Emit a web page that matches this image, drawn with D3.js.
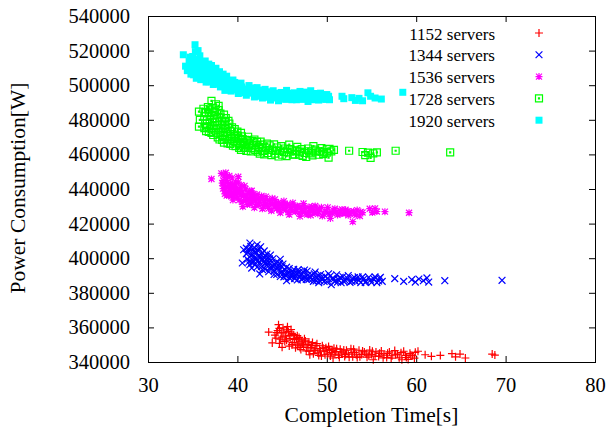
<!DOCTYPE html>
<html>
<head>
<meta charset="utf-8">
<script src="https://cdn.jsdelivr.net/npm/d3@7"></script>
<style>
  body { margin: 0; background: #fff; }
  text { font-family: "Liberation Serif", "Times New Roman", serif; fill: #000; }
</style>
</head>
<body>
<script>
// series values: [completion time (s), power (W)]
const s1152 = [[43.5,357300],[44.6,361600],[43.9,351000],[45.0,348500],[44.2,355500],[44.5,358200],[44.8,353200],[44.9,356800],[45.1,359800],[45.3,351800],[45.4,355000],[45.6,360400],[45.7,357600],[45.8,349200],[45.9,353500],[46.0,358800],[46.2,351200],[46.3,355800],[46.5,348200],[46.6,353600],[46.8,350400],[46.9,354200],[47.1,347200],[47.2,351600],[47.4,349300],[47.6,352200],[47.7,346400],[47.9,350200],[48.1,344200],[48.2,348300],[48.4,351200],[48.6,346600],[48.8,349500],[49.0,345300],[49.2,347800],[49.4,343400],[49.5,349400],[49.7,346200],[49.9,348300],[50.1,344500],[50.3,347100],[50.5,345500],[50.7,342300],[50.8,348000],[51.0,346000],[51.3,344000],[51.5,347400],[51.7,345200],[52.0,343200],[52.2,346800],[52.4,344600],[52.7,347600],[52.9,343000],[53.1,345600],[53.4,342600],[53.6,346800],[53.9,344300],[54.2,345800],[54.5,342800],[54.8,346900],[55.0,344400],[55.2,341300],[55.5,345800],[55.8,343200],[56.1,346400],[56.4,344000],[56.7,342600],[57.0,345800],[57.3,343600],[57.6,346600],[57.9,344600],[58.1,342400],[58.4,341300],[58.6,346200],[58.8,343800],[59.1,341500],[59.3,345000],[59.6,343600],[59.9,345600],[60.2,346200],[61.0,344200],[61.7,343300],[62.7,343800],[64.0,344800],[64.4,343000],[64.9,344600],[65.5,342300],[68.5,344600],[68.8,344000],
  [44.3,353800],[44.4,357000],[44.7,359400],[44.7,350800],[45.0,354400],[45.2,357200],[45.5,352600],[45.5,358600],[45.8,355400],[46.1,350000],[46.1,356600],[46.4,353000],[46.7,349800],[46.7,355200],[47.0,352800],[47.0,348400],[47.3,350400],[47.5,353400],[47.8,348400],[48.0,351600],[48.0,346200],[48.3,349600],[48.5,344800],[48.7,347600],[48.9,350600],[49.1,343800],[49.3,346400],[49.6,348000],[49.8,344200],[50.0,346800],[50.2,349000],[50.4,343400],[50.6,346800],[50.9,344600],[51.1,347600],[51.4,342600],[51.6,345800],[51.9,347000],[52.1,344400],[52.5,342800],[52.8,345400],[53.0,347400],[53.3,344200],[53.7,343000],[54.0,346400],[54.4,344600],[54.7,343600],[55.1,346200],[55.4,343400],[55.9,345000],[56.3,342400],[56.8,345000],[57.2,342200],[57.7,344200],[58.3,345400],[58.9,342600],[59.4,344000],[59.8,342200]];

const s1344 = [[40.7,404900],[40.55,397200],[41.4,408800],[42.2,407800],[41.6,394300],[42.5,390900],[41.0,402500],[41.1,399500],[41.3,405200],[41.5,401300],[41.6,397600],[41.8,404000],[41.9,400200],[42.0,396400],[42.1,402800],[42.3,398800],[42.4,405600],[42.6,400800],[42.7,395200],[42.8,403000],[43.0,398200],[43.1,393600],[43.2,401000],[43.4,396600],[43.5,392200],[43.6,399600],[43.8,394800],[43.9,397800],[44.1,392800],[44.2,396000],[44.4,390600],[44.5,394200],[44.7,397000],[44.9,391800],[45.0,395000],[45.2,389200],[45.3,393200],[45.5,387000],[45.6,390600],[45.8,394000],[46.0,389400],[46.2,392200],[46.4,388200],[46.6,391200],[46.8,393400],[47.0,389400],[47.2,387600],[47.4,391800],[47.6,389000],[47.8,392600],[48.0,387800],[48.3,390400],[48.5,386600],[48.7,392000],[48.9,388600],[49.1,385800],[49.3,390600],[49.5,387600],[49.8,389600],[50.0,386400],[50.2,391000],[50.5,384700],[50.6,388200],[50.9,386600],[51.1,390400],[51.3,387600],[51.6,385800],[51.8,389400],[52.1,387000],[52.4,390000],[52.6,386000],[52.9,388400],[53.2,386600],[53.5,389200],[53.8,385900],[54.1,387800],[54.4,386400],[54.7,389000],[55.0,386000],[55.3,387800],[55.6,385800],[55.9,388400],[56.2,386600],[57.6,388200],[58.6,386600],[59.5,387600],[59.9,386200],[60.3,388000],[60.8,387000],[61.2,388600],[61.4,386200],[63.2,387000],[69.6,387200],
  [41.0,405800],[41.2,403600],[41.3,398000],[41.4,396200],[41.5,406800],[41.7,402000],[41.8,398400],[41.9,406000],[42.0,403800],[42.1,399200],[42.2,394800],[42.3,404400],[42.4,401600],[42.5,397400],[42.6,406600],[42.7,399200],[42.8,393400],[42.9,400600],[43.0,404200],[43.1,396600],[43.3,399400],[43.3,402400],[43.5,397800],[43.6,394400],[43.7,401800],[43.9,395600],[44.0,399800],[44.1,390600],[44.3,397400],[44.4,393600],[44.6,395600],[44.8,399400],[44.8,389400],[45.0,392400],[45.1,396600],[45.3,390400],[45.5,394800],[45.7,392000],[45.9,388200],[46.1,390800],[46.3,393600],[46.5,389800],[46.7,387400],[46.9,391800],[47.1,390600],[47.3,388600],[47.5,393200],[47.7,387800],[47.9,390200],[48.1,389200],[48.4,388000],[48.6,391000],[48.8,386800],[49.0,390000],[49.2,387000],[49.4,389000],[49.7,386600],[50.1,388400],[50.4,389800],[50.8,388000],[51.2,386200],[51.5,389000],[51.9,386600],[52.3,388400],[52.8,386600],[53.1,388800],[53.6,387200],[54.0,389200],[54.3,386000],[54.9,387400],[55.4,389200],[55.8,386800],[56.0,389000]];

const s1536 = [[37.1,445800],[38.2,449000],[38.5,447600],[38.7,449400],[39.1,447600],[39.4,446400],[40.1,447100],[38.3,443400],[38.4,440200],[38.6,437200],[38.8,444800],[38.9,441600],[39.0,438400],[39.2,443200],[39.3,435800],[39.4,440400],[39.5,433600],[39.6,437800],[39.8,444000],[39.9,440800],[40.0,435400],[40.2,438600],[40.4,442200],[40.5,432600],[40.6,429800],[40.7,436200],[40.9,440000],[41.0,433800],[41.2,437600],[41.4,431200],[41.6,439000],[41.7,435000],[41.9,429200],[42.0,433200],[42.2,436800],[42.4,430800],[42.6,434600],[42.8,428600],[43.0,432400],[43.2,435600],[43.4,429800],[43.6,433400],[43.8,427400],[44.0,431400],[44.2,434000],[44.4,428600],[44.6,432200],[44.8,426200],[45.0,430400],[45.2,433000],[45.4,427800],[45.6,431200],[45.8,425200],[46.0,429200],[46.2,432000],[46.5,427000],[46.7,430200],[47.0,424200],[47.2,428400],[47.4,431600],[47.7,426000],[47.9,429400],[48.2,424800],[48.4,427800],[48.7,430200],[49.0,425600],[49.2,428600],[49.5,424400],[49.8,427200],[50.1,429400],[50.4,423000],[50.6,426000],[50.9,428600],[51.2,425000],[51.5,427600],[51.8,425800],[52.1,428000],[52.4,424800],[52.7,427000],[52.9,421100],[53.1,425600],[53.4,427800],[53.7,424400],[54.0,426400],[54.8,428600],[55.1,426400],[55.4,428800],[55.6,427000],[56.5,426900],[59.2,426300],
  [38.4,445000],[38.5,442000],[38.6,439000],[38.8,436200],[38.9,447000],[39.0,443000],[39.1,440400],[39.2,436800],[39.4,438200],[39.5,442800],[39.6,435400],[39.7,441600],[39.8,438600],[40.0,437800],[40.1,444000],[40.2,433600],[40.3,440000],[40.4,436600],[40.6,438400],[40.7,433200],[40.8,441800],[41.0,436000],[41.1,431000],[41.3,434400],[41.4,438800],[41.5,436600],[41.6,432600],[41.8,437200],[41.9,434200],[42.1,431000],[42.3,434600],[42.5,432400],[42.7,436000],[42.9,430400],[43.1,434000],[43.3,431600],[43.5,428800],[43.7,431800],[43.9,434600],[44.1,429600],[44.3,432000],[44.5,430400],[44.7,428000],[44.9,431600],[45.1,428200],[45.3,431400],[45.5,429400],[45.7,426600],[45.9,430600],[46.1,427200],[46.4,430000],[46.6,428400],[46.9,426200],[47.1,430000],[47.3,426600],[47.6,428800],[47.8,425200],[48.1,427400],[48.3,429800],[48.6,426400],[48.9,428400],[49.1,426800],[49.4,429400],[49.7,425400],[50.0,427000],[50.3,425600],[50.7,427800],[51.0,426800],[51.4,425600],[51.7,428200],[52.0,426200],[52.3,427200],[52.6,425600],[53.0,427200],[53.3,425000],[53.8,426800]];

const s1728 = [[35.7,484700],[35.8,479900],[35.7,476000],[36.2,486400],[36.3,482000],[36.4,477800],[36.5,473400],[36.7,487400],[36.8,484000],[36.9,480200],[37.0,476200],[37.1,490900],[37.1,472400],[37.3,486600],[37.4,482600],[37.5,478600],[37.6,489000],[37.6,474400],[37.8,469800],[37.9,485600],[38.0,481200],[38.1,477200],[38.2,472800],[38.3,468400],[38.5,483000],[38.6,479000],[38.7,474600],[38.8,470400],[38.9,466400],[39.1,477800],[39.2,473400],[39.4,469200],[39.5,465000],[39.7,474600],[39.9,471000],[40.0,467000],[40.2,463800],[40.4,472400],[40.6,468800],[40.8,465400],[41.0,462000],[41.2,470200],[41.4,466800],[41.6,463600],[41.9,468600],[42.1,465400],[42.3,461600],[42.6,467400],[42.8,463800],[43.0,460000],[43.3,466200],[43.5,462600],[43.8,459600],[44.1,465800],[44.3,462000],[44.6,458800],[44.9,464800],[45.2,461400],[45.5,459000],[45.8,465600],[46.1,462400],[46.4,460000],[46.7,464400],[47.0,461600],[47.3,459200],[47.7,458500],[47.9,463400],[48.2,460600],[48.5,464800],[48.8,461800],[49.1,459800],[49.4,463600],[49.7,461200],[50.0,463000],[50.2,458100],[50.5,461800],[50.8,462600],[52.5,462100],[54.0,461400],[54.3,459600],[54.6,461000],[54.9,458000],[55.2,460600],[55.6,461200],[57.7,462100],[63.8,461200],
  [36.3,475200],[36.4,484400],[36.6,480000],[36.6,476000],[36.8,473000],[36.9,486000],[37.0,482400],[37.2,479000],[37.2,475000],[37.3,471200],[37.5,484400],[37.7,480800],[37.7,477000],[37.8,472200],[37.9,488000],[38.0,468600],[38.1,483600],[38.2,475200],[38.3,479400],[38.4,471200],[38.5,466800],[38.6,476200],[38.7,481000],[38.8,473000],[39.0,468800],[39.0,479400],[39.2,466000],[39.3,471800],[39.4,475600],[39.6,467800],[39.7,470400],[39.8,464800],[40.0,473200],[40.1,469400],[40.3,466000],[40.4,462600],[40.5,470400],[40.7,467000],[40.9,463800],[41.1,468200],[41.3,465000],[41.5,461800],[41.7,467800],[41.8,465400],[42.0,462600],[42.2,467200],[42.4,464200],[42.5,460400],[42.7,465600],[42.9,462000],[43.2,464000],[43.4,460800],[43.6,465200],[43.9,462800],[44.2,460400],[44.4,464000],[44.8,462200],[45.0,459800],[45.3,463400],[45.6,461200],[45.9,463000],[46.2,459800],[46.6,462200],[46.9,459800],[47.2,463000],[47.5,460800],[48.0,461800],[48.4,459400],[48.7,462800],[49.2,461800],[49.6,460200],[50.0,461000],[50.3,463200]];

const s1920 = [[33.95,517600],[34.2,511000],[34.4,508400],[34.6,513800],[34.8,506400],[35.0,516600],[35.1,510600],[35.26,523400],[35.3,519400],[35.4,504000],[35.5,514600],[35.7,508600],[35.8,517000],[35.9,503200],[36.0,512200],[36.2,506600],[36.4,514000],[36.5,501800],[36.7,509800],[36.9,504600],[37.1,511400],[37.3,500400],[37.5,507400],[37.7,502800],[37.9,505800],[38.1,499000],[38.3,503400],[38.6,497000],[38.8,505200],[39.0,500800],[39.3,496600],[39.5,503000],[39.8,498600],[40.1,495200],[40.4,501200],[40.7,497200],[41.0,494200],[41.3,499800],[41.6,496400],[41.9,493200],[42.2,498600],[42.5,495000],[42.8,492600],[43.1,497600],[43.4,494400],[43.7,491400],[44.0,496800],[44.3,493600],[44.6,491000],[44.9,495800],[45.2,492800],[45.5,497000],[45.8,494200],[46.1,491600],[46.4,495600],[46.7,493000],[47.0,496400],[47.3,491800],[47.6,494600],[47.9,490600],[48.2,496800],[48.5,493000],[48.8,495200],[49.1,491400],[49.4,494200],[49.7,492000],[50.0,494600],[50.3,491600],[51.7,493600],[51.9,492200],[52.8,492800],[53.2,491200],[53.6,492400],[54.0,491000],[54.6,495600],[54.9,493600],[55.4,492600],[56.1,492000],[58.5,495900],
  [34.5,510800],[34.7,516200],[34.9,509000],[35.0,512800],[35.1,506000],[35.2,514800],[35.3,508000],[35.4,511800],[35.5,505200],[35.6,520000],[35.6,510800],[35.8,506000],[35.9,513400],[36.1,509200],[36.1,503800],[36.3,511000],[36.4,504400],[36.6,507600],[36.8,502000],[36.8,512200],[37.0,508000],[37.2,503400],[37.4,505600],[37.6,509800],[37.6,500800],[37.8,504000],[38.0,507800],[38.0,501600],[38.3,499400],[38.4,506400],[38.5,501400],[38.7,499000],[38.9,502600],[39.2,498800],[39.4,500600],[39.6,497400],[39.7,501600],[40.0,499200],[40.2,497000],[40.5,499000],[40.8,495600],[41.1,497800],[41.4,495400],[41.7,498400],[42.0,495800],[42.3,493600],[42.6,497200],[42.9,495400],[43.2,493000],[43.6,496200],[43.9,492600],[44.2,495400],[44.5,494400],[44.8,492400],[45.0,494600],[45.4,491800],[45.7,495400],[46.0,493200],[46.3,494400],[46.6,491600],[46.9,494600],[47.2,493800],[47.5,496000],[47.8,492800],[48.1,494400],[48.4,491600],[48.7,493800],[49.0,492800],[49.3,495400],[49.6,493400],[49.9,491800],[50.2,493600]];

const labels = ["1152 servers", "1344 servers", "1536 servers", "1728 servers", "1920 servers"];
const colors = ["#ff0000", "#0000ff", "#ff00ff", "#00ff00", "#00ffff"];
const shapes = ["plus", "cross", "star", "box", "boxfill"];
const xTicks = [30, 40, 50, 60, 70, 80];
const yTicks = [340000, 360000, 380000, 400000, 420000, 440000, 460000, 480000, 500000, 520000, 540000];

const allSeries = [s1152, s1344, s1536, s1728, s1920];

const width = 610, height = 432;
const plotL = 148, plotR = 595, plotT = 16, plotB = 362;

const svg = d3.select("body").append("svg")
    .attr("width", width)
    .attr("height", height);

const x = d3.scaleLinear().domain([30, 80]).range([plotL, plotR]);
const y = d3.scaleLinear().domain([340000, 540000]).range([plotB, plotT]);

// marker path around (0,0)
function markerPath(shape) {
    const p = d3.path();
    if (shape == "plus" || shape == "star") {
        const r = shape == "plus" ? 4 : 3.5;
        p.moveTo(-r, 0); p.lineTo(r, 0);
        p.moveTo(0, -r); p.lineTo(0, r);
    }
    if (shape == "cross" || shape == "star") {
        const r = shape == "cross" ? 3.4 : 3;
        p.moveTo(-r, -r); p.lineTo(r, r);
        p.moveTo(-r, r); p.lineTo(r, -r);
    }
    if (shape == "box") {
        p.rect(-3.5, -3.5, 7, 7);
        p.rect(-0.5, -0.5, 1, 1);
    }
    if (shape == "boxfill") {
        p.rect(-3.5, -3.5, 7, 7);
    }
    return p.toString();
}

function drawMarker(sel, shape, color) {
    sel.attr("d", markerPath(shape))
        .attr("fill", shape == "boxfill" ? color : "none")
        .attr("stroke", shape == "boxfill" ? "none" : color)
        .attr("stroke-width", 1.2);
}

// axes, ticks pointing inward
const axisFont = 20.5;

svg.append("g")
    .attr("transform", `translate(0,${plotB})`)
    .call(d3.axisBottom(x).tickValues(xTicks).tickSize(-6).tickPadding(15));
svg.append("g")
    .attr("transform", `translate(${plotL},0)`)
    .call(d3.axisLeft(y).tickValues(yTicks).tickSize(-6).tickPadding(18).tickFormat(d3.format("d")));
svg.append("g")
    .attr("transform", `translate(0,${plotT})`)
    .call(d3.axisTop(x).tickValues(xTicks).tickSize(-6).tickFormat(""));
svg.append("g")
    .attr("transform", `translate(${plotR},0)`)
    .call(d3.axisRight(y).tickValues(yTicks).tickSize(-6).tickFormat(""));

svg.selectAll(".domain").remove();
svg.selectAll(".tick line").attr("stroke", "#000");
svg.selectAll(".tick text")
    .style("font-family", '"Liberation Serif", serif')
    .style("font-size", axisFont + "px")
    .attr("fill", "#000");

// points
allSeries.forEach((data, i) => {
    svg.append("g")
        .selectAll("path")
        .data(data)
        .enter()
        .append("path")
        .attr("transform", d => `translate(${x(d[0])},${y(d[1])})`)
        .call(drawMarker, shapes[i], colors[i]);
});

// frame
svg.append("rect")
    .attr("x", plotL + 0.5)
    .attr("y", plotT + 0.5)
    .attr("width", plotR - plotL)
    .attr("height", plotB - plotT)
    .attr("fill", "none")
    .attr("stroke", "#000")
    .attr("stroke-width", 1);

// legend
const legend = svg.append("g");
labels.forEach((lab, i) => {
    legend.append("text")
        .attr("x", 495)
        .attr("y", 39.5 + 21.8 * i)
        .attr("text-anchor", "end")
        .style("font-size", "17px")
        .text(lab);
    legend.append("path")
        .attr("transform", `translate(539,${33 + 21.8 * i})`)
        .call(drawMarker, shapes[i], colors[i]);
});

// axis titles
svg.append("text")
    .attr("x", (plotL + plotR) / 2)
    .attr("y", 422)
    .attr("text-anchor", "middle")
    .style("font-size", "21.5px")
    .text("Completion Time[s]");

svg.append("text")
    .attr("transform", "translate(25,188) rotate(-90)")
    .attr("text-anchor", "middle")
    .style("font-size", "21.5px")
    .text("Power Consumption[W]");
</script>
</body>
</html>
